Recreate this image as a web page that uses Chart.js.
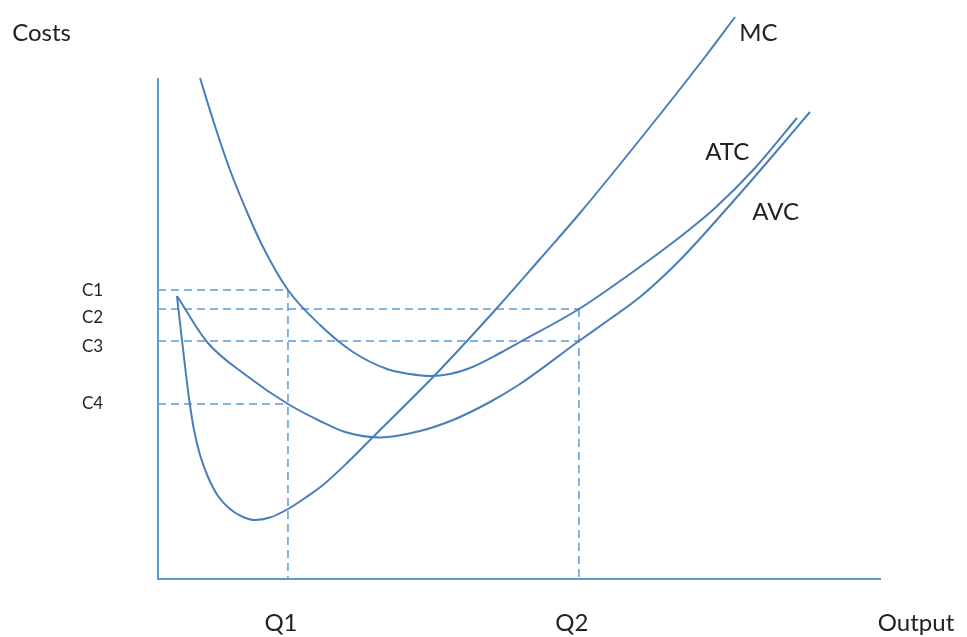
<!DOCTYPE html>
<html>
<head>
<meta charset="utf-8">
<script src="https://cdn.jsdelivr.net/npm/chart.js@4.4.1/dist/chart.umd.min.js"></script>
<style>
  html, body { margin: 0; padding: 0; background: #fff; }
  #wrap { width: 967px; height: 637px; }
</style>
</head>
<body>
<div id="wrap"><canvas id="costChart" width="967" height="637"></canvas></div>
<script>
// quantities on the output axis and the cost levels marked on the cost axis
const outputTicks = [18.0, 58.3];
const outputLabels = ['Q1', 'Q2'];
const costTicks = [57.8, 54.0, 47.6, 35.0];
const costLabels = ['C1', 'C2', 'C3', 'C4'];

// curves as [output, cost] pairs
const mcCurve = [
    [2.63, 56.6], [3.19, 49.4], [3.74, 42.6], [4.29, 36.2], [4.99, 29.8], [5.82, 24.8],
    [6.93, 20.4], [8.31, 16.6], [9.97, 14.0], [11.77, 12.4], [13.43, 11.8], [15.51, 12.3],
    [18.0, 14.0], [20.36, 16.2], [22.85, 18.8], [26.32, 23.4], [29.78, 28.4], [38.37, 40.8],
    [46.95, 54.2], [52.91, 64.0], [58.45, 73.2], [68.14, 90.4], [75.76, 104.4], [79.92, 112.4]
];
const atcCurve = [
    [5.82, 100.2], [7.62, 91.8], [9.97, 81.8], [12.33, 73.4], [14.54, 66.4], [18.0, 57.8],
    [22.44, 50.8], [27.01, 45.4], [31.72, 42.0], [34.9, 41.0], [37.67, 40.6], [40.44, 41.0],
    [43.21, 42.2], [47.37, 45.2], [50.14, 47.4], [58.31, 54.0], [65.37, 61.0], [72.3, 68.4],
    [77.15, 74.2], [82.69, 82.2], [88.5, 92.2]
];
const avcCurve = [
    [2.63, 56.6], [6.79, 47.4], [12.33, 40.6], [18.0, 35.0], [22.44, 31.6], [25.9, 29.4],
    [30.75, 28.3], [36.29, 29.6], [40.86, 31.8], [45.98, 35.4], [50.14, 39.0], [58.31, 47.6],
    [62.6, 52.0], [66.76, 56.4], [72.3, 63.8], [79.22, 74.8], [84.76, 84.0], [90.3, 93.4]
];

const curveColor = '#4a7ebb';
const guideColor = '#5b9bd5';
const textColor = '#222222';
const fontFamily = 'Lato, "Open Sans", sans-serif';

function toPoints(arr) {
    return arr.map(p => ({ x: p[0], y: p[1] }));
}

function curve(label, arr) {
    return {
        label: label,
        data: toPoints(arr),
        showLine: true,
        borderColor: curveColor,
        borderWidth: 2,
        pointRadius: 0,
        cubicInterpolationMode: 'monotone',
        clip: false
    };
}

function guide(points) {
    return {
        label: 'guide',
        data: points,
        showLine: true,
        borderColor: guideColor,
        borderWidth: 1.5,
        borderDash: [8, 5],
        pointRadius: 0,
        tension: 0,
        clip: false
    };
}

const [q1, q2] = outputTicks;
const [c1, c2, c3, c4] = costTicks;

const guides = [
    guide([{ x: 0, y: c1 }, { x: q1, y: c1 }]),
    guide([{ x: 0, y: c2 }, { x: q2, y: c2 }]),
    guide([{ x: 0, y: c3 }, { x: q2, y: c3 }]),
    guide([{ x: 0, y: c4 }, { x: q1, y: c4 }]),
    guide([{ x: q1, y: c1 }, { x: q1, y: 0 }]),
    guide([{ x: q2, y: c2 }, { x: q2, y: 0 }])
];

// free text anchored to data coordinates (left edge, vertical middle)
const freeText = [
    ['Costs', -20.2, 109.2],
    ['Output', 99.7, -8.8],
    ['MC', 80.5, 109.2],
    ['ATC', 75.8, 85.4],
    ['AVC', 82.3, 73.4]
];
// the C labels sit a little below their dashed lines in the original
const costLabelNudge = [1, 9, 6, 0];

const textPlugin = {
    id: 'freeText',
    afterDraw(chart) {
        const ctx = chart.ctx;
        const xs = chart.scales.x, ys = chart.scales.y;
        ctx.save();
        ctx.fillStyle = textColor;
        ctx.textAlign = 'left';
        ctx.textBaseline = 'middle';
        ctx.font = '24px ' + fontFamily;
        freeText.forEach(t => {
            ctx.fillText(t[0], xs.getPixelForValue(t[1]), ys.getPixelForValue(t[2]));
        });
        ctx.font = '17px ' + fontFamily;
        costTicks.forEach((v, i) => {
            ctx.fillText(costLabels[i], ys.left, ys.getPixelForValue(v) + costLabelNudge[i]);
        });
        ctx.restore();
    }
};

new Chart(document.getElementById('costChart'), {
    type: 'scatter',
    data: {
        datasets: [
            curve('MC', mcCurve),
            curve('ATC', atcCurve),
            curve('AVC', avcCurve),
            ...guides
        ]
    },
    options: {
        responsive: false,
        animation: false,
        events: [],
        layout: { padding: { left: 82, right: 87, top: 79, bottom: 0 } },
        plugins: {
            legend: { display: false },
            tooltip: { enabled: false }
        },
        scales: {
            x: {
                type: 'linear',
                min: 0,
                max: 100,
                grid: { display: false, drawTicks: false },
                border: { display: true, color: guideColor, width: 2 },
                afterBuildTicks: scale => { scale.ticks = outputTicks.map(v => ({ value: v })); },
                afterFit: scale => { scale.height = 58; },
                ticks: {
                    autoSkip: false,
                    maxRotation: 0,
                    padding: 30,
                    labelOffset: -7,
                    color: textColor,
                    font: { family: fontFamily, size: 24 },
                    callback: (v, i) => outputLabels[i]
                }
            },
            y: {
                type: 'linear',
                min: 0,
                max: 100,
                grid: { display: false, drawTicks: false },
                border: { display: true, color: guideColor, width: 2 },
                afterFit: scale => { scale.width = 76; },
                ticks: { display: false }
            }
        }
    },
    plugins: [textPlugin]
});
</script>
</body>
</html>
